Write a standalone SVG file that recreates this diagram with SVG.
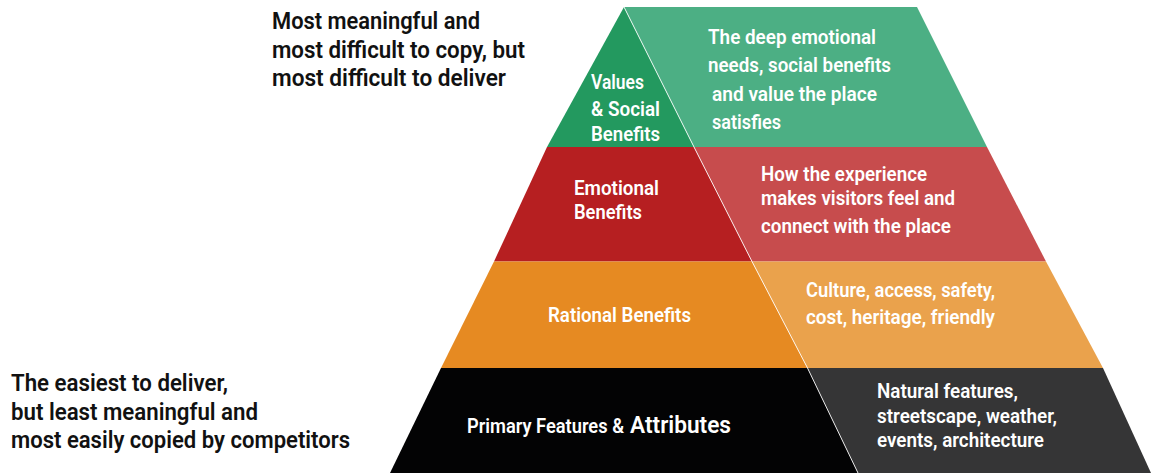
<svg xmlns="http://www.w3.org/2000/svg" width="1156" height="473" viewBox="0 0 1156 473">
  <style>
    .t { font-family: "Roboto", "Liberation Sans", sans-serif; font-weight: 600; }
    .w { fill: #ffffff; font-size: 20px; }
    .note { fill: #111111; font-size: 24px; }
    .div { stroke: #ffffff; stroke-width: 1; stroke-opacity: 0.85; fill: none; }
  </style>
  <rect width="1156" height="473" fill="#ffffff"/>

  <!-- Tier 1: values & social benefits -->
  <g id="tier-values">
    <polygon points="624,7 547,147 694,147" fill="#23995f"/>
    <polygon points="624,7 917,7 987,147 694,147" fill="#4caf84"/>
    <g class="t w">
      <text x="591" y="89" textLength="53" lengthAdjust="spacingAndGlyphs">Values</text>
      <text x="591" y="116" textLength="69" lengthAdjust="spacingAndGlyphs">&amp; Social</text>
      <text x="591" y="141" textLength="69" lengthAdjust="spacingAndGlyphs">Benefits</text>
    </g>
    <g class="t w" font-size="21">
      <text x="708" y="43.5" textLength="168" lengthAdjust="spacingAndGlyphs">The deep emotional</text>
      <text x="708" y="72" textLength="183" lengthAdjust="spacingAndGlyphs">needs, social benefits</text>
      <text x="712" y="101" textLength="165" lengthAdjust="spacingAndGlyphs">and value the place</text>
      <text x="712" y="129" textLength="69" lengthAdjust="spacingAndGlyphs">satisfies</text>
    </g>
  </g>

  <!-- Tier 2: emotional benefits -->
  <g id="tier-emotional">
    <polygon points="547,147 694,147 752,261.5 494,261.5" fill="#b61f21"/>
    <polygon points="694,147 987,147 1046,261.5 752,261.5" fill="#c74c4d"/>
    <g class="t w">
      <text x="574" y="195" textLength="85" lengthAdjust="spacingAndGlyphs">Emotional</text>
      <text x="574" y="218.5" textLength="68" lengthAdjust="spacingAndGlyphs">Benefits</text>
      <text x="761" y="181" textLength="166" lengthAdjust="spacingAndGlyphs">How the experience</text>
      <text x="761" y="205" textLength="194" lengthAdjust="spacingAndGlyphs">makes visitors feel and</text>
      <text x="761" y="233" textLength="190" lengthAdjust="spacingAndGlyphs">connect with the place</text>
    </g>
  </g>

  <!-- Tier 3: rational benefits -->
  <g id="tier-rational">
    <polygon points="494,261.5 752,261.5 807.5,368 441,368" fill="#e68a22"/>
    <polygon points="752,261.5 1046,261.5 1103,368 807.5,368" fill="#eaa24c"/>
    <g class="t w">
      <text x="548" y="322" textLength="143" lengthAdjust="spacingAndGlyphs">Rational Benefits</text>
      <text x="806" y="296.5" textLength="189" lengthAdjust="spacingAndGlyphs">Culture, access, safety,</text>
      <text x="806" y="324" textLength="189" lengthAdjust="spacingAndGlyphs">cost, heritage, friendly</text>
    </g>
  </g>

  <!-- Tier 4: primary features & attributes -->
  <g id="tier-features">
    <polygon points="441,368 807.5,368 858,473 390,473" fill="#030304"/>
    <polygon points="807.5,368 1103,368 1151,473 858,473" fill="#353536"/>
    <g class="t w">
      <text x="467" y="433" textLength="157" lengthAdjust="spacingAndGlyphs">Primary Features &amp;</text>
      <text x="630" y="433" font-size="24" textLength="101" lengthAdjust="spacingAndGlyphs">Attributes</text>
      <text x="877" y="398" textLength="141" lengthAdjust="spacingAndGlyphs">Natural features,</text>
      <text x="877" y="422.5" textLength="180" lengthAdjust="spacingAndGlyphs">streetscape, weather,</text>
      <text x="877" y="446.5" textLength="167" lengthAdjust="spacingAndGlyphs">events, architecture</text>
    </g>
  </g>

  <!-- Thin white split running down the pyramid -->
  <g id="dividers">
    <polyline class="div" points="624,7 694,147 752,261.5 807.5,368 858,473"/>
  </g>

  <!-- Side annotations -->
  <g id="note-top" class="t note">
    <text x="272" y="29" textLength="208" lengthAdjust="spacingAndGlyphs">Most meaningful and</text>
    <text x="272" y="57.5" textLength="253" lengthAdjust="spacingAndGlyphs">most difficult to copy, but</text>
    <text x="272" y="86" textLength="234" lengthAdjust="spacingAndGlyphs">most difficult to deliver</text>
  </g>
  <g id="note-bottom" class="t note">
    <text x="11" y="391" textLength="217" lengthAdjust="spacingAndGlyphs">The easiest to deliver,</text>
    <text x="11" y="419.5" textLength="247" lengthAdjust="spacingAndGlyphs">but least meaningful and</text>
    <text x="11" y="448" textLength="339" lengthAdjust="spacingAndGlyphs">most easily copied by competitors</text>
  </g>
</svg>
